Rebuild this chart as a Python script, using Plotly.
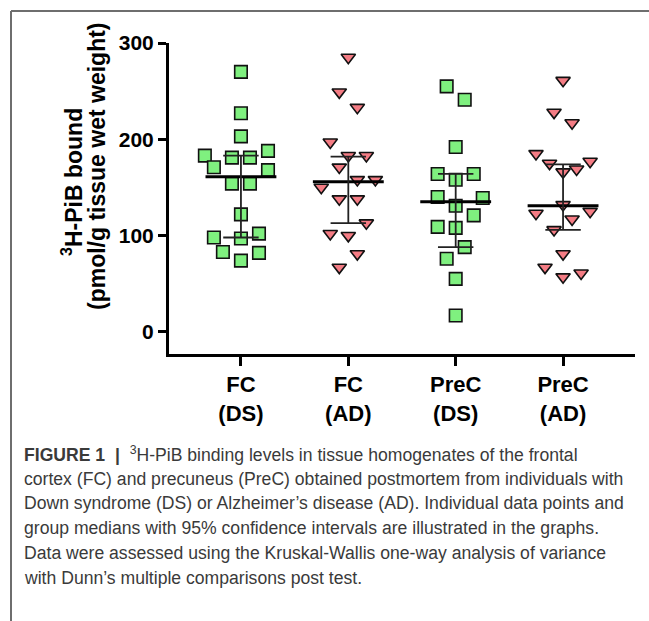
import plotly.graph_objects as go

# ---------------- data ----------------
categories = ["FC<br>(DS)", "FC<br>(AD)", "PreC<br>(DS)", "PreC<br>(AD)"]

fc_ds = [270, 227, 203, 183, 181, 181, 188, 171, 168, 154, 154, 122, 98, 97, 102, 83, 82, 74]
fc_ds_slot = [0, 0, 0, -4, -1, 1, 3, -3, 3, -1, 1, 0, -3, 0, 2, -2, 2, 0]

fc_ad = [285, 249, 233, 197, 183, 183, 171, 150, 158, 158, 138, 138, 113, 102, 100, 81, 67]
fc_ad_slot = [0, -1, 1, -2, 0, 2, -1, -3, 1, 3, -1, 1, 2, -2, 0, 1, -1]

prec_ds = [255, 241, 192, 164, 164, 158, 140, 139, 131, 121, 109, 108, 88, 76, 55, 17]
prec_ds_slot = [-1, 1, 0, -2, 2, 0, -2, 3, 0, 2, -2, 0, 1, -1, 0, 0]

prec_ad = [261, 228, 217, 185, 175, 166, 169, 177, 132, 123, 125, 117, 106, 81, 67, 57, 61]
prec_ad_slot = [0, -1, 1, -3, -1.5, 0, 1.5, 3, 0, -3, 3, 1, -1, 0, -2, 0, 2]

medians = [161, 156, 135, 131]
ci_low = [98, 113, 88, 106]
ci_high = [183, 182, 164, 174]

y_ticks = [0, 100, 200, 300]

caption_lines = [
    "<b>FIGURE 1  |</b>  <sup>3</sup>H-PiB binding levels in tissue homogenates of the frontal",
    "cortex (FC) and precuneus (PreC) obtained postmortem from individuals with",
    "Down syndrome (DS) or Alzheimer\u2019s disease (AD). Individual data points and",
    "group medians with 95% confidence intervals are illustrated in the graphs.",
    "Data were assessed using the Kruskal-Wallis one-way analysis of variance",
    "with Dunn\u2019s multiple comparisons post test.",
]

# ---------------- figure ----------------
W, H = 649, 621
ML, MR, MT, MB = 169, 14, 43, 267
PW, PH = W - ML - MR, H - MT - MB
SLOT = 0.084          # horizontal spacing of stacked points (data units)
MED_HALF = 0.33
CAP_HALF = 0.165
FONT = "Liberation Sans, Arial"

groups = [
    (fc_ds, fc_ds_slot, "square", "#7ff07f", 12.5),
    (fc_ad, fc_ad_slot, "triangle-down", "#f47c84", 12.5),
    (prec_ds, prec_ds_slot, "square", "#7ff07f", 12.5),
    (prec_ad, prec_ad_slot, "triangle-down", "#f47c84", 12.5),
]

fig = go.Figure()
for i, (vals, slots, sym, col, sz) in enumerate(groups):
    fig.add_trace(go.Scatter(
        x=[i + s * SLOT for s in slots], y=vals, mode="markers",
        marker=dict(symbol=sym, size=sz, color=col,
                    line=dict(color="#111111", width=1.6)),
        showlegend=False, hoverinfo="y"))

for i in range(len(categories)):
    fig.add_trace(go.Scatter(x=[i - MED_HALF, i + MED_HALF], y=[medians[i]] * 2,
                             mode="lines", line=dict(color="black", width=3),
                             showlegend=False, hoverinfo="skip"))
    fig.add_trace(go.Scatter(
        x=[i, i, None, i - CAP_HALF, i + CAP_HALF, None, i - CAP_HALF, i + CAP_HALF],
        y=[ci_low[i], ci_high[i], None, ci_low[i], ci_low[i], None, ci_high[i], ci_high[i]],
        mode="lines", line=dict(color="#222222", width=1.8),
        showlegend=False, hoverinfo="skip"))

fig.update_xaxes(
    range=[-0.67, 3.67], tickmode="array", tickvals=list(range(len(categories))),
    ticktext=[f"<b>{c}</b>" for c in categories],
    showline=True, linecolor="black", linewidth=3,
    ticks="outside", ticklen=9, tickwidth=3, tickcolor="black",
    showgrid=False, zeroline=False,
    tickfont=dict(family=FONT, size=22, color="black"))
fig.update_yaxes(
    range=[-23, 300], tickmode="array", tickvals=y_ticks,
    ticktext=[f"<b>{t}</b>" for t in y_ticks],
    showline=True, linecolor="black", linewidth=3,
    ticks="outside", ticklen=8, tickwidth=3, tickcolor="black",
    showgrid=False, zeroline=False,
    tickfont=dict(family=FONT, size=21, color="black"))

# y-axis title (two rotated lines)
fig.add_annotation(xref="paper", yref="paper", x=(72 - ML) / PW,
                   y=1 - (182 - MT) / PH, xanchor="center", yanchor="middle",
                   text="<b><sup>3</sup>H-PiB bound</b>", textangle=-90, showarrow=False,
                   font=dict(family=FONT, size=23, color="black"))
fig.add_annotation(xref="paper", yref="paper", x=(97 - ML) / PW,
                   y=1 - (166 - MT) / PH, xanchor="center", yanchor="middle",
                   text="<b>(pmol/g tissue wet weight)</b>", textangle=-90, showarrow=False,
                   font=dict(family=FONT, size=23, color="black"))

# caption
for k, line in enumerate(caption_lines):
    ypix = 454 + k * 24.7
    fig.add_annotation(xref="paper", yref="paper",
                       x=(22 - ML) / PW, y=1 - (ypix - MT) / PH,
                       xanchor="left", yanchor="middle", text=line, showarrow=False,
                       align="left",
                       font=dict(family=FONT, size=17.6, color="#3a3a3a"))

# frame (left and top)
fig.add_shape(type="line", xref="paper", yref="paper",
              x0=(11 - ML) / PW, x1=(W + 5 - ML) / PW,
              y0=1 + (MT - 11) / PH, y1=1 + (MT - 11) / PH,
              line=dict(color="#6e6e6e", width=2))
fig.add_shape(type="line", xref="paper", yref="paper",
              x0=(11 - ML) / PW, x1=(11 - ML) / PW,
              y0=1 + (MT - 11) / PH, y1=-(MB + 5) / PH,
              line=dict(color="#6e6e6e", width=2))

fig.update_layout(width=W, height=H, margin=dict(l=ML, r=MR, t=MT, b=MB),
                  plot_bgcolor="white", paper_bgcolor="white")

fig.write_html("out.html")
